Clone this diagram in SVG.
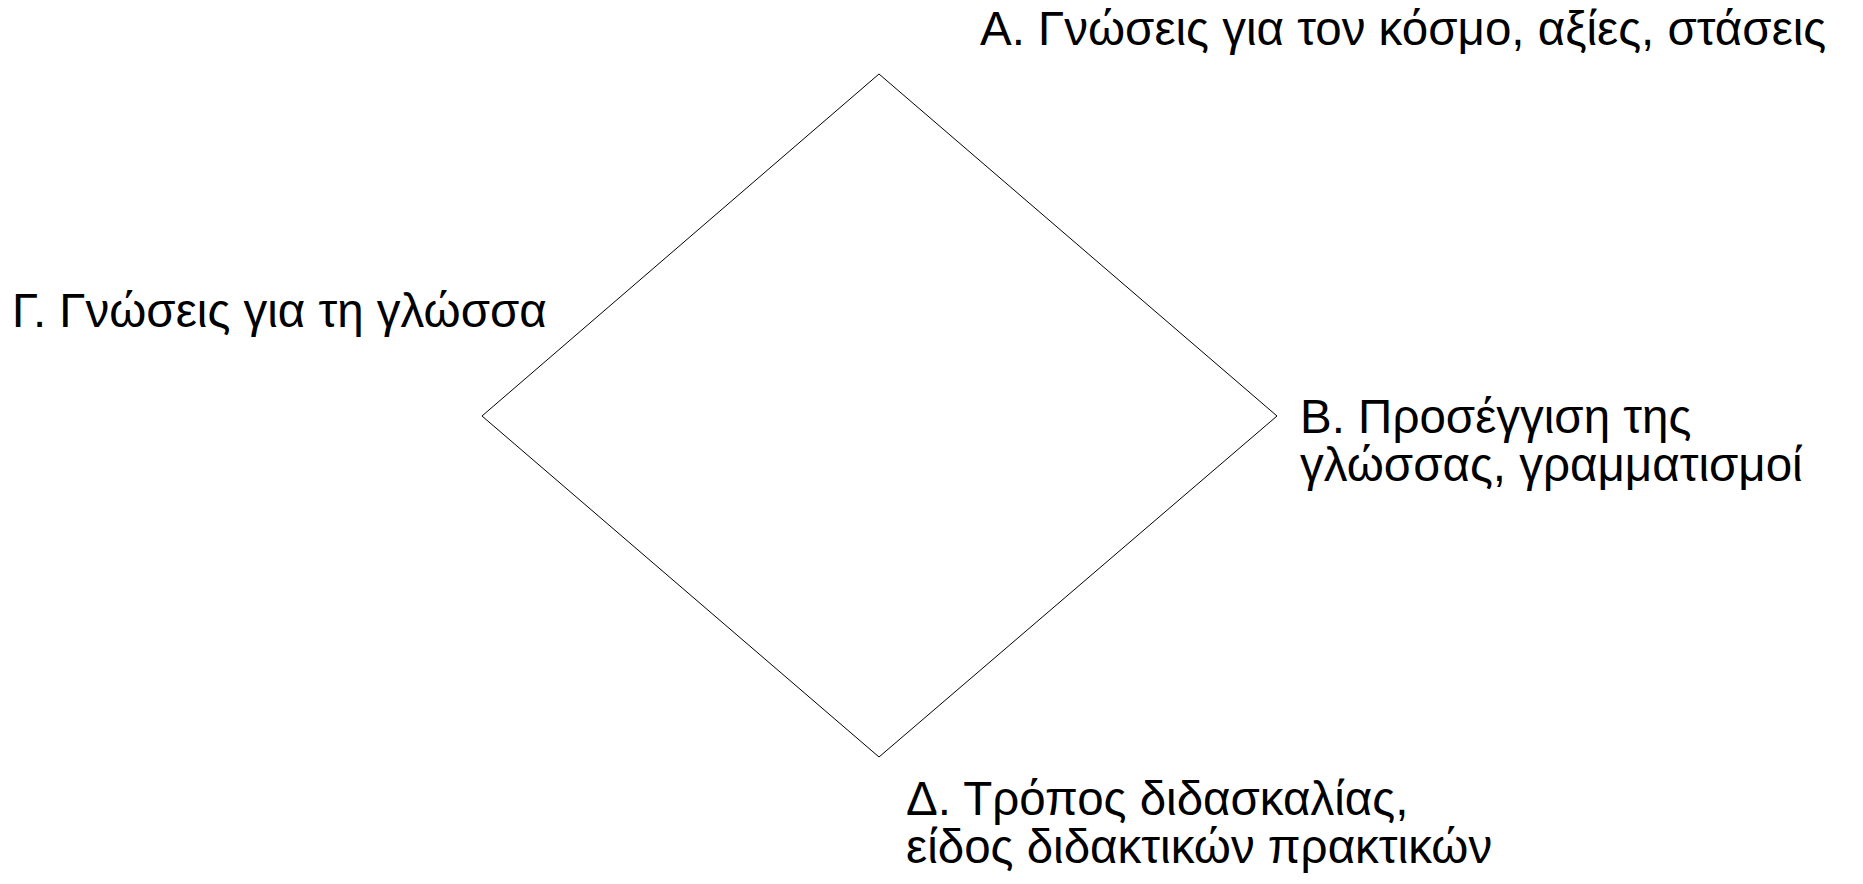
<svg xmlns="http://www.w3.org/2000/svg" width="1863" height="884" viewBox="0 0 1863 884">
<style>
.lbl{font-family:"Liberation Sans",Arial,sans-serif;font-size:47.5px;fill:#000}
.edge{stroke:#000;stroke-width:1;fill:none}
</style>
<rect width="1863" height="884" fill="#fff"/>
<g id="connectors">
<path class="edge" d="M879,74 L1277,416 L879,757 L482,416 Z"/>
</g>
<g id="node-a"><text class="lbl" x="980" y="45">Α. Γνώσεις για τον κόσμο, αξίες, στάσεις</text></g>
<g id="node-b"><text class="lbl" x="1300" y="433">Β. Προσέγγιση της</text><text class="lbl" x="1300" y="481">γλώσσας, γραμματισμοί</text></g>
<g id="node-c"><text class="lbl" x="12" y="327">Γ. Γνώσεις για τη γλώσσα</text></g>
<g id="node-d"><text class="lbl" x="906" y="815">Δ. Τρόπος διδασκαλίας,</text><text class="lbl" x="906" y="863">είδος διδακτικών πρακτικών</text></g>
</svg>
